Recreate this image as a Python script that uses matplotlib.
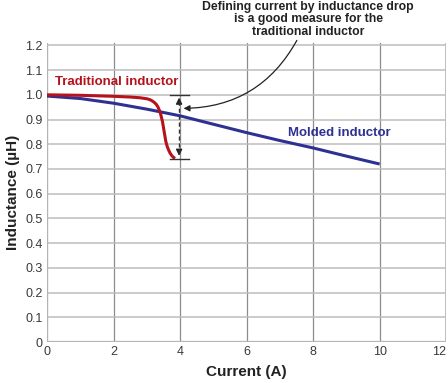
import matplotlib
matplotlib.use("Agg")
import matplotlib.pyplot as plt

plt.rcParams['font.family'] = ['Liberation Sans', 'DejaVu Sans']

# Data
trad_x = [0, 0.5, 1.0, 1.5, 2.0, 2.5, 2.8, 3.0, 3.1, 3.2, 3.28, 3.33, 3.4, 3.47, 3.52, 3.57, 3.61, 3.65, 3.7, 3.75, 3.8, 3.85]
trad_y = [1.0, 0.999, 0.998, 0.996, 0.994, 0.991, 0.988, 0.984, 0.98, 0.972, 0.962, 0.952, 0.93, 0.892, 0.852, 0.812, 0.792, 0.778, 0.764, 0.754, 0.747, 0.743]
mold_x = [0, 1, 2, 3, 4, 5, 6, 7, 8, 9, 10]
mold_y = [0.995, 0.985, 0.966, 0.942, 0.915, 0.881, 0.847, 0.815, 0.785, 0.752, 0.72]
xticks = [0, 2, 4, 6, 8, 10, 12]
yticks = [0, 0.1, 0.2, 0.3, 0.4, 0.5, 0.6, 0.7, 0.8, 0.9, 1.0, 1.1, 1.2]
ytick_labels = ["0", "0.1", "0.2", "0.3", "0.4", "0.5", "0.6", "0.7", "0.8", "0.9", "1.0", "1.1", "1.2"]

red = "#b5121b"
blue = "#2e3192"

fig = plt.figure(figsize=(4.48, 3.83), dpi=100)
ax = fig.add_axes([0.105, 0.107, 0.891, 0.781])
ax.set_xlim(0, 12)
ax.set_ylim(0, 1.21)
ax.set_xticks(xticks)
ax.set_yticks(yticks)
ax.set_yticklabels(ytick_labels)
ax.grid(True, axis="y", color="#bdbdbd", linewidth=1.1)
ax.grid(True, axis="x", color="#8c8c8c", linewidth=0.9)
ax.set_axisbelow(True)
for s in ax.spines.values():
    s.set_visible(False)
ax.axhline(0, color="#b5b5b5", linewidth=1.6, zorder=1)
ax.axvline(0, color="#b5b5b5", linewidth=1.4, zorder=1)
ax.axvline(12, color="#bdbdbd", linewidth=1.4, zorder=1)
ax.tick_params(length=0, labelsize=9, labelcolor="#3a3a3a", pad=3)
for lab in ax.get_xticklabels():
    if lab.get_text() == "12":
        lab.set_horizontalalignment("right")

ax.plot(mold_x, mold_y, color=blue, linewidth=2.2, zorder=3, solid_capstyle="butt")
ax.plot(trad_x, trad_y, color=red, linewidth=2.2, zorder=4, solid_capstyle="butt",
        solid_joinstyle="round")

# drop indicator
ax.plot([3.7, 4.27], [1.0, 1.0], color="#333333", linewidth=1.0, zorder=5)
ax.plot([3.7, 4.27], [0.742, 0.742], color="#333333", linewidth=1.0, zorder=5)
ax.plot([3.97, 3.97], [0.76, 0.98], color="#333333", linewidth=1.0, linestyle=(0, (3, 2)), zorder=5)
ax.annotate("", xy=(3.97, 1.0), xytext=(3.97, 0.96),
            arrowprops=dict(arrowstyle="-|>", color="#222222", lw=1.0, mutation_scale=9))
ax.annotate("", xy=(3.97, 0.742), xytext=(3.97, 0.78),
            arrowprops=dict(arrowstyle="-|>", color="#222222", lw=1.0, mutation_scale=9))

ax.annotate("", xy=(4.02, 0.945), xytext=(7.55, 1.23),
            xycoords="data", textcoords="data",
            arrowprops=dict(arrowstyle="-|>", color="#222222", lw=0.9, mutation_scale=9,
                            connectionstyle="arc3,rad=-0.3"),
            annotation_clip=False)

fig.text(0.688, 0.998, "Defining current by inductance drop\nis a good measure for the\ntraditional inductor",
         ha="center", va="top", fontsize=8.8, fontweight="bold", color="#222222", linespacing=1.08)

ax.text(0.25, 1.05, "Traditional inductor", color=red, fontsize=9.5, fontweight="bold", ha="left", va="center")
ax.text(7.25, 0.846, "Molded inductor", color=blue, fontsize=9.5, fontweight="bold", ha="left", va="center")

ax.set_xlabel("Current (A)", fontsize=11, fontweight="bold", color="#222222", labelpad=5)
ax.set_ylabel("Inductance (\u00b5H)", fontsize=11, fontweight="bold", color="#222222", labelpad=4)

fig.savefig("out.png", dpi=100)
